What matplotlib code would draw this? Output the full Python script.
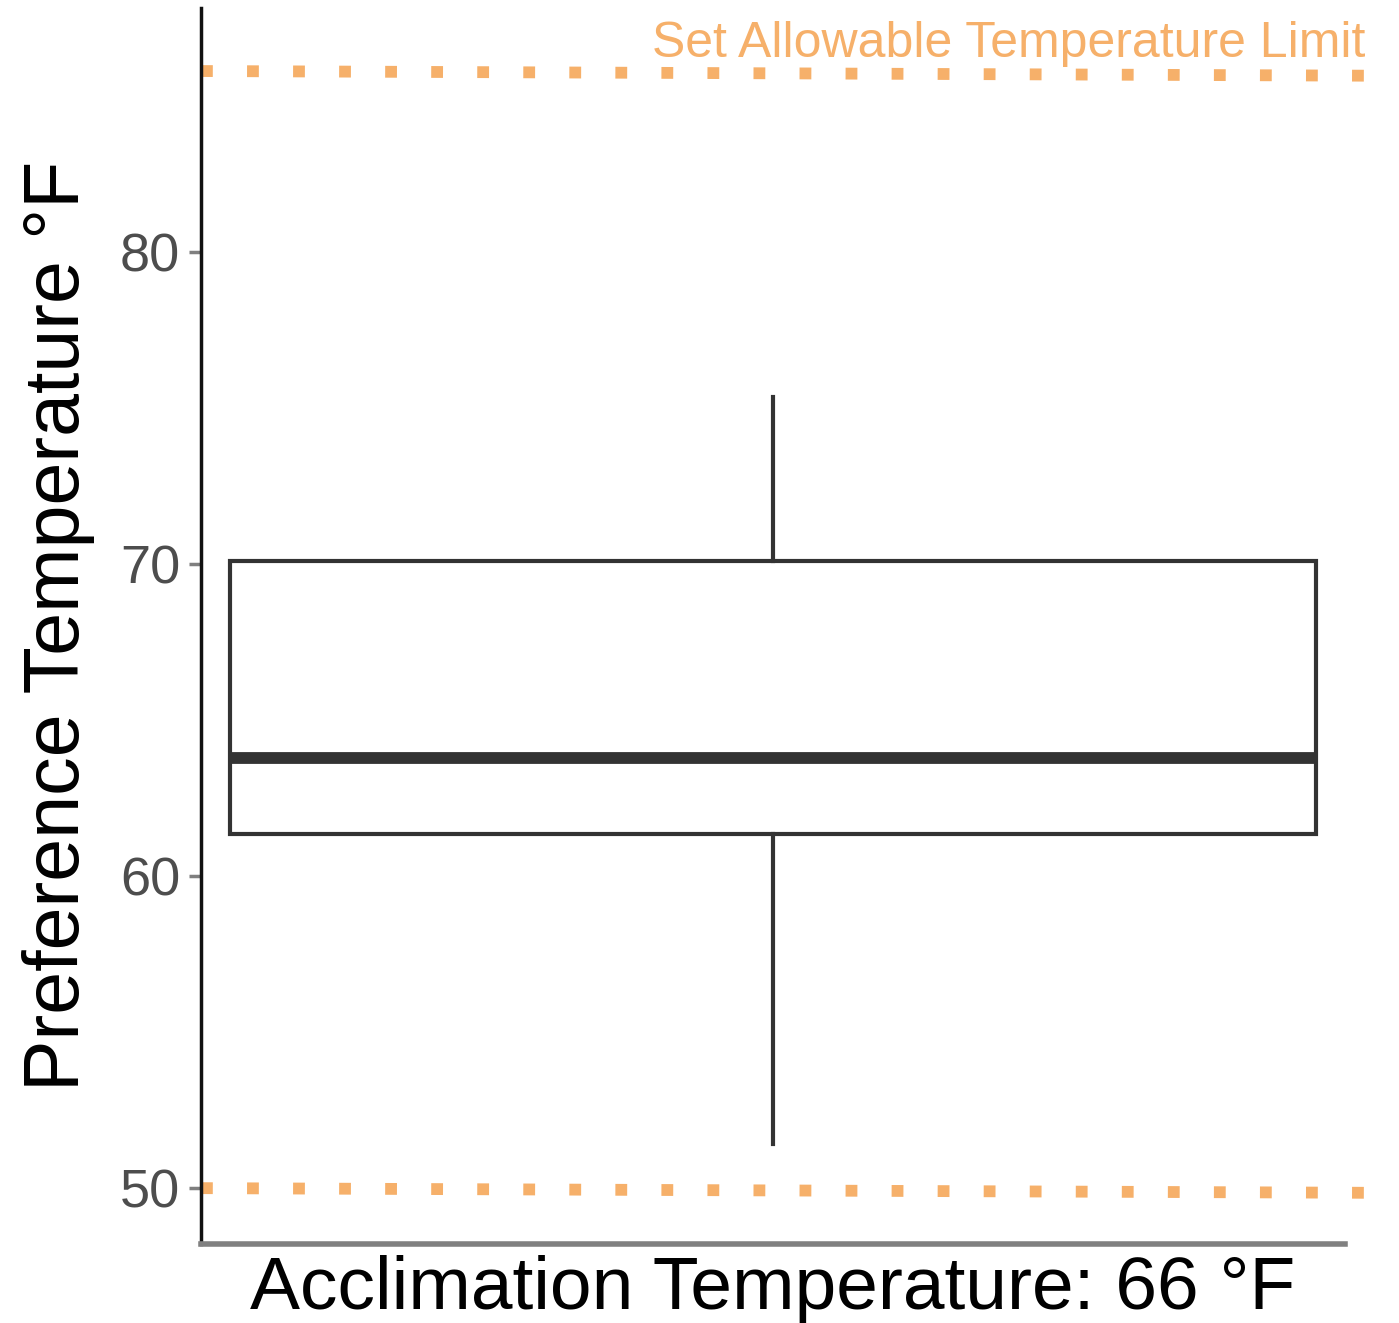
import matplotlib
matplotlib.use("Agg")
import matplotlib.pyplot as plt

plt.rcParams['font.family'] = ['Liberation Sans', 'DejaVu Sans']

# box summary
group = 'Acclimation Temperature: 66 °F'
q1, median, q3 = 61.35, 63.8, 70.1
whisker_lo, whisker_hi = 51.4, 75.35

# allowable temperature limits (left end, right end)
limit_x = [0.0, 1.025]
upper_limit = [85.8, 85.65]
lower_limit = [50.0, 49.85]

yticks = [50, 60, 70, 80]

orange = '#F6B06A'
dark = '#333333'

fig = plt.figure(figsize=(13.99, 13.23), dpi=100)
ax = fig.add_axes([201 / 1399, 1 - 1244 / 1323, 1144 / 1399, 1236 / 1323])

stats = [dict(med=median, q1=q1, q3=q3, whislo=whisker_lo, whishi=whisker_hi,
              label=group)]
ax.bxp(stats, positions=[0.5], widths=[0.95], showcaps=False, showfliers=False,
       patch_artist=True,
       boxprops=dict(facecolor='white', edgecolor=dark, linewidth=3),
       medianprops=dict(color=dark, linewidth=8.5, solid_capstyle='butt'),
       whiskerprops=dict(color=dark, linewidth=3))

for ys in (upper_limit, lower_limit):
    ax.plot(limit_x, ys, color=orange, linewidth=8.5,
            linestyle=(0, (1, 2.9)), dash_capstyle='butt', clip_on=False)

ax.set_xlim(0, 1)
ax.set_ylim(48.21, 87.82)
ax.set_xticks([])
ax.set_yticks(yticks)
ax.tick_params(axis='y', length=9, width=2.5, color='#7f7f7f',
               labelcolor='#4d4d4d', labelsize=39, pad=6)

for s in ('top', 'right'):
    ax.spines[s].set_visible(False)
ax.spines['left'].set_color('#111111')
ax.spines['left'].set_linewidth(2.5)
ax.spines['bottom'].set_color('#808080')
ax.spines['bottom'].set_linewidth(4)

ax.set_ylabel('Preference Temperature °F', fontsize=55.5, color='black',
              labelpad=18)
ax.set_xlabel(group, fontsize=54, color='black', labelpad=8)

fig.text(1365 / 1399, 1 - 44 / 1323, 'Set Allowable Temperature Limit',
         color=orange, fontsize=36, ha='right', va='center')

fig.savefig('out.png', dpi=100)
